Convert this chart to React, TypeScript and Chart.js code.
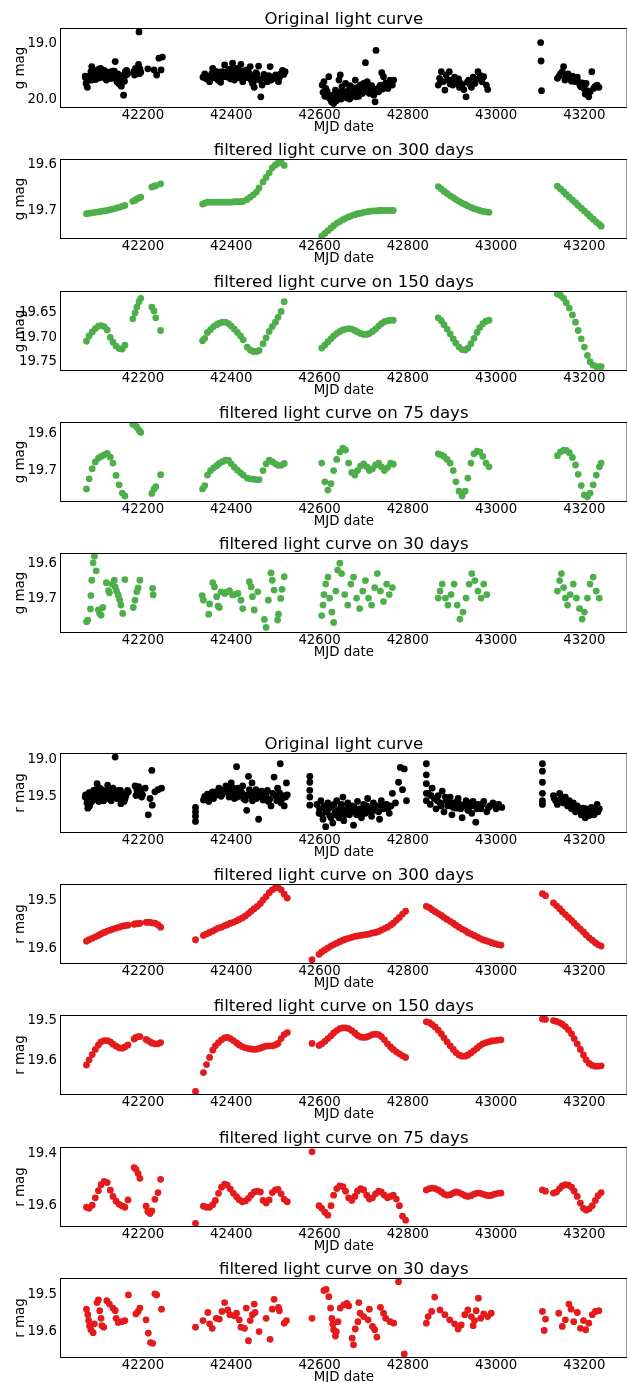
import { useEffect, useRef } from "react";
import { Chart, registerables } from "chart.js";

Chart.register(...registerables);

const FONT = "'DejaVu Sans', sans-serif";
const X_MIN = 42012;
const X_MAX = 43298;
const X_TICKS = [42200, 42400, 42600, 42800, 43000, 43200];

const BLACK = "#000000";
const GREEN = "#4daf4a";
const RED = "#e41a1c";

// ---------- g band: raw photometry ----------
const gRawDates = [
  42069, 42071, 42074, 42076, 42079, 42082, 42084, 42086, 42088, 42090, 42093, 42095, 42097, 42099, 42101,
  42104, 42106, 42108, 42110, 42112, 42115, 42117, 42119, 42121, 42124, 42127, 42129, 42132, 42137, 42135,
  42139, 42141, 42143, 42145, 42147, 42149, 42151, 42156, 42153, 42155, 42158, 42160, 42163, 42165,
  42179, 42181, 42183, 42185, 42188, 42190, 42191, 42193, 42195,
  42211, 42225, 42231, 42236, 42241, 42244,
  42070, 42078, 42083, 42092, 42096, 42103, 42107, 42113, 42118, 42123, 42126, 42131, 42134, 42142, 42148,
  42152, 42162, 42180, 42186, 42192,
  42336, 42340, 42344, 42351, 42354, 42358, 42362, 42366, 42370, 42373, 42376, 42380, 42382, 42385, 42389,
  42391, 42396, 42399, 42403, 42407, 42409, 42412, 42416, 42418, 42422, 42426, 42430, 42434, 42437, 42443,
  42445, 42448, 42452, 42456, 42459, 42462, 42467, 42470, 42472, 42477, 42482, 42488, 42490, 42495, 42501,
  42507, 42512, 42516, 42522, 42375, 42393, 42401, 42414, 42424, 42440, 42450,
  42342, 42348, 42356, 42360, 42364, 42368, 42371, 42378, 42383, 42387, 42392, 42395, 42398, 42402, 42405,
  42411, 42413, 42417, 42420, 42423, 42428, 42432, 42435, 42439, 42442, 42446, 42454, 42458, 42464, 42474,
  42480, 42485, 42493, 42498, 42504, 42510, 42519,
  42610, 42614, 42617, 42621, 42625, 42629, 42632, 42636, 42639, 42644, 42647, 42651, 42655, 42659, 42662,
  42666, 42669, 42673, 42677, 42681, 42684, 42687, 42692, 42695, 42700, 42704, 42708, 42711, 42715, 42718,
  42723, 42726, 42728, 42731, 42734, 42738, 42741, 42745, 42750, 42755, 42760, 42765, 42768,
  42606, 42619, 42627, 42634, 42642, 42649, 42657, 42664, 42671, 42679, 42689, 42697, 42706,
  42608, 42612, 42623, 42630, 42638, 42645, 42653, 42661, 42668, 42675, 42683, 42691, 42699, 42713, 42720,
  42736, 42743, 42752, 42758,
  42869, 42872, 42876, 42880, 42884, 42887, 42891, 42894, 42898, 42902, 42906, 42909, 42912, 42917, 42920,
  42923, 42927, 42932, 42938, 42941, 42944, 42948, 42952, 42955, 42959, 42962, 42968, 42972, 42978, 42981,
  42874, 42896, 42915, 42935, 42965,
  43101, 43102, 43103,
  43139, 43143, 43146, 43150, 43153, 43158, 43163, 43166, 43169, 43173, 43176, 43180, 43184, 43187, 43190,
  43195, 43199, 43202, 43206, 43210, 43213, 43217, 43221, 43224, 43229, 43233, 43156, 43171, 43192, 43204,
];
const gRawMag = [
  19.59, 19.72, 19.79, 19.63, 19.66, 19.51, 19.42, 19.57, 19.65, 19.49, 19.65, 19.60, 19.55, 19.47, 19.62,
  19.45, 19.53, 19.61, 19.56, 19.49, 19.51, 19.66, 19.54, 19.60, 19.57, 19.54, 19.63, 19.58, 19.33, 19.50,
  19.60, 19.69, 19.55, 19.72, 19.64, 19.75, 19.77, 19.93, 19.70, 19.62, 19.68, 19.51, 19.49, 19.55,
  19.51, 19.57, 19.45, 19.54, 19.48, 19.38, 18.80, 19.46, 19.52,
  19.46, 19.48, 19.57, 19.27, 19.48, 19.25,
  19.62, 19.60, 19.66, 19.55, 19.58, 19.57, 19.48, 19.60, 19.57, 19.52, 19.63, 19.50, 19.61, 19.58, 19.62,
  19.58, 19.57, 19.53, 19.50, 19.55,
  19.61, 19.55, 19.64, 19.69, 19.58, 19.45, 19.62, 19.57, 19.66, 19.52, 19.70, 19.51, 19.60, 19.39, 19.60,
  19.55, 19.48, 19.64, 19.36, 19.66, 19.53, 19.45, 19.62, 19.57, 19.38, 19.69, 19.55, 19.48, 19.60, 19.42,
  19.66, 19.72, 19.79, 19.53, 19.62, 19.41, 19.96, 19.75, 19.63, 19.60, 19.69, 19.42, 19.66, 19.61, 19.57,
  19.69, 19.55, 19.49, 19.51, 19.58, 19.61, 19.55, 19.59, 19.63, 19.57, 19.70,
  19.60, 19.62, 19.54, 19.59, 19.50, 19.61, 19.55, 19.57, 19.52, 19.55, 19.50, 19.58, 19.46, 19.56, 19.50,
  19.60, 19.52, 19.48, 19.55, 19.60, 19.50, 19.58, 19.62, 19.52, 19.56, 19.62, 19.60, 19.55, 19.66, 19.56,
  19.64, 19.58, 19.64, 19.60, 19.63, 19.60, 19.56,
  19.69, 19.81, 19.86, 19.60, 19.96, 20.02, 20.08, 19.84, 19.92, 19.66, 19.57, 19.78, 19.90, 19.72, 19.98,
  19.84, 19.76, 19.93, 19.80, 19.66, 19.88, 19.79, 19.75, 19.85, 19.72, 19.35, 19.69, 19.79, 19.84, 19.76,
  19.93, 20.05, 19.13, 19.82, 19.87, 19.75, 19.53, 19.60, 19.71, 19.81, 19.66, 19.75, 19.66,
  19.75, 19.92, 20.05, 19.98, 19.88, 20.00, 19.95, 19.90, 19.97, 19.92, 19.95, 19.90, 19.86,
  19.88, 19.95, 19.99, 19.93, 20.03, 19.95, 19.86, 19.92, 20.00, 19.88, 19.96, 19.86, 19.82, 19.90, 19.84,
  19.78, 19.82, 19.76, 19.74,
  19.75, 19.63, 19.51, 19.69, 19.84, 19.57, 19.66, 19.51, 19.66, 19.75, 19.61, 19.71, 19.69, 19.79, 19.72,
  19.75, 19.83, 19.96, 19.66, 19.74, 19.79, 19.61, 19.72, 19.65, 19.51, 19.63, 19.69, 19.60, 19.75, 19.83,
  19.70, 19.73, 19.64, 19.70, 19.58,
  18.99, 19.32, 19.85,
  19.63, 19.59, 19.55, 19.51, 19.42, 19.60, 19.55, 19.62, 19.65, 19.59, 19.64, 19.69, 19.61, 19.70, 19.75,
  19.71, 19.81, 19.91, 19.85, 19.96, 19.87, 19.51, 19.81, 19.78, 19.75, 19.79, 19.66, 19.68, 19.78, 19.72,
];

// ---------- g band: smoothed curves sampled on common epochs ----------
const gDates = [
  42072, 42078, 42085, 42092, 42099, 42105, 42112, 42119, 42126, 42132, 42139, 42146, 42153, 42159,
  42177, 42182, 42186, 42191, 42195, 42220, 42225, 42229, 42240,
  42335, 42340, 42346, 42353, 42360, 42367, 42373, 42380, 42387, 42394, 42400, 42407, 42414, 42421,
  42427, 42436, 42443, 42450, 42457, 42463, 42472, 42479, 42486, 42493, 42500, 42506, 42513, 42520,
  42605, 42612, 42619, 42626, 42632, 42639, 42646, 42653, 42659, 42666, 42673, 42680, 42686, 42693,
  42700, 42707, 42713, 42720, 42727, 42734, 42740, 42747, 42754, 42761, 42767,
  42869, 42876, 42882, 42889, 42896, 42903, 42909, 42916, 42923, 42930, 42936, 42943, 42950, 42957,
  42963, 42970, 42977, 42984,
  43139, 43146, 43153, 43159, 43166, 43173, 43180, 43186, 43193, 43200, 43207, 43213, 43220, 43227,
  43234, 43238,
];
const g300 = [
  19.706, 19.705, 19.704, 19.703, 19.702, 19.701, 19.700, 19.699, 19.697, 19.696, 19.694, 19.692, 19.690, 19.688,
  19.679, 19.677, 19.674, 19.672, 19.670, 19.648, 19.646, 19.645, 19.641,
  19.685, 19.683, 19.681, 19.681, 19.681, 19.681, 19.681, 19.681, 19.681, 19.681, 19.681, 19.680, 19.680, 19.680,
  19.679, 19.675, 19.670, 19.665, 19.659, 19.650, 19.637, 19.627, 19.617, 19.606, 19.600, 19.596, 19.595, 19.601,
  19.755, 19.749, 19.743, 19.737, 19.732, 19.727, 19.723, 19.719, 19.716, 19.713, 19.710, 19.708, 19.706, 19.705,
  19.703, 19.702, 19.701, 19.700, 19.700, 19.699, 19.699, 19.699, 19.699, 19.699, 19.699,
  19.647, 19.652, 19.657, 19.662, 19.667, 19.671, 19.675, 19.679, 19.683, 19.686, 19.689, 19.692, 19.695, 19.697,
  19.699, 19.701, 19.702, 19.703,
  19.646, 19.652, 19.658, 19.664, 19.670, 19.676, 19.682, 19.688, 19.694, 19.700, 19.706, 19.712, 19.718, 19.724,
  19.729, 19.733,
];
const g150 = [
  19.708, 19.697, 19.689, 19.682, 19.677, 19.676, 19.678, 19.685, 19.700, 19.710, 19.718, 19.723, 19.724, 19.716,
  19.662, 19.650, 19.638, 19.627, 19.620, 19.638, 19.646, 19.660, 19.686,
  19.707, 19.702, 19.690, 19.684, 19.678, 19.674, 19.671, 19.669, 19.669, 19.672, 19.677, 19.683, 19.690, 19.697,
  19.705, 19.720, 19.726, 19.729, 19.729, 19.727, 19.713, 19.701, 19.688, 19.678, 19.669, 19.659, 19.647, 19.627,
  19.722, 19.716, 19.709, 19.703, 19.697, 19.692, 19.688, 19.685, 19.683, 19.682, 19.683, 19.686, 19.689, 19.692,
  19.694, 19.694, 19.692, 19.688, 19.683, 19.677, 19.672, 19.668, 19.666, 19.665, 19.665,
  19.660, 19.666, 19.674, 19.683, 19.693, 19.703, 19.712, 19.720, 19.725, 19.726, 19.722, 19.713, 19.702, 19.690,
  19.680, 19.672, 19.667, 19.665,
  19.611, 19.614, 19.620, 19.629, 19.640, 19.654, 19.669, 19.686, 19.703, 19.720, 19.737, 19.750, 19.757, 19.760,
  19.760, 19.760,
];
const g75 = [
  19.749, 19.722, 19.695, 19.677, 19.667, 19.662, 19.658, 19.654, 19.664, 19.680, 19.713, 19.738, 19.760, 19.768,
  19.576, 19.578, 19.584, 19.592, 19.598, 19.761, 19.749, 19.743, 19.711,
  19.749, 19.740, 19.712, 19.700, 19.693, 19.687, 19.681, 19.676, 19.672, 19.673, 19.682, 19.691, 19.699, 19.706,
  19.712, 19.720, 19.722, 19.723, 19.724, 19.724, 19.700, 19.682, 19.672, 19.676, 19.682, 19.686, 19.686, 19.681,
  19.680, 19.730, 19.752, 19.735, 19.700, 19.670, 19.650, 19.640, 19.645, 19.680, 19.705, 19.712, 19.700, 19.688,
  19.682, 19.690, 19.700, 19.695, 19.685, 19.680, 19.690, 19.700, 19.692, 19.680, 19.683,
  19.655, 19.658, 19.662, 19.670, 19.680, 19.700, 19.730, 19.755, 19.768, 19.755, 19.720, 19.680, 19.655, 19.648,
  19.650, 19.662, 19.680, 19.690,
  19.660, 19.650, 19.645, 19.646, 19.652, 19.665, 19.685, 19.710, 19.740, 19.765, 19.770, 19.760, 19.738, 19.712,
  19.690, 19.680,
];

// ---------- g band: 30-day filter ----------
const g30Dates = [
  42072, 42075, 42081, 42082, 42084, 42087, 42090, 42094, 42099, 42102, 42105, 42109, 42117, 42122, 42124,
  42130, 42135, 42137, 42140, 42144, 42147, 42150, 42154, 42159, 42178, 42182, 42186, 42189, 42193, 42222, 42223,
  42334, 42337, 42349, 42351, 42358, 42362, 42367, 42370, 42373, 42377, 42385, 42389, 42396, 42403, 42407,
  42415, 42422, 42426, 42441, 42445, 42448, 42452, 42460, 42475, 42479, 42484, 42490, 42493, 42497, 42505,
  42507, 42512, 42515, 42520,
  42605, 42608, 42610, 42614, 42619, 42623, 42628, 42632, 42637, 42641, 42646, 42650, 42657, 42664, 42671,
  42677, 42684, 42691, 42698, 42704, 42711, 42718, 42725, 42731, 42738, 42745, 42752, 42758, 42765,
  42869, 42873, 42878, 42885, 42891, 42898, 42905, 42912, 42918, 42925, 42932, 42939, 42945, 42952, 42959,
  42966, 42972, 42979,
  43139, 43144, 43148, 43153, 43157, 43162, 43168, 43175, 43182, 43189, 43195, 43200, 43207, 43213, 43220,
  43227, 43234,
];
const g30 = [
  19.768, 19.763, 19.731, 19.693, 19.649, 19.599, 19.580, 19.622, 19.734, 19.744, 19.749, 19.727, 19.656, 19.679, 19.685,
  19.660, 19.649, 19.668, 19.680, 19.692, 19.705, 19.720, 19.744, 19.647, 19.727, 19.706, 19.682, 19.671, 19.649, 19.672, 19.691,
  19.693, 19.706, 19.746, 19.717, 19.656, 19.668, 19.696, 19.723, 19.727, 19.682, 19.687, 19.683, 19.679, 19.691, 19.690,
  19.687, 19.706, 19.730, 19.653, 19.668, 19.696, 19.734, 19.682, 19.761, 19.784, 19.706, 19.628, 19.649, 19.677, 19.763,
  19.746, 19.701, 19.675, 19.639,
  19.750, 19.720, 19.690, 19.660, 19.640, 19.700, 19.740, 19.770, 19.680, 19.620, 19.600, 19.630, 19.690, 19.720, 19.660,
  19.640, 19.700, 19.730, 19.680, 19.650, 19.700, 19.720, 19.670, 19.630, 19.680, 19.710, 19.660, 19.690, 19.670,
  19.700, 19.680, 19.660, 19.700, 19.720, 19.690, 19.660, 19.720, 19.760, 19.740, 19.700, 19.660, 19.630, 19.650, 19.680,
  19.700, 19.660, 19.690,
  19.680, 19.650, 19.630, 19.670, 19.700, 19.720, 19.690, 19.660, 19.700, 19.730, 19.760, 19.740, 19.700, 19.660, 19.640,
  19.680, 19.700,
];

// ---------- r band: raw photometry ----------
const rRawDates = [
  42069, 42073, 42075, 42077, 42079, 42082, 42084, 42087, 42090, 42093, 42096, 42097, 42099, 42102, 42105,
  42108, 42111, 42113, 42117, 42120, 42122, 42126, 42129, 42132, 42135, 42137, 42141, 42144, 42147, 42150,
  42152, 42154, 42157, 42159, 42163, 42167, 42182, 42184, 42187, 42190, 42193, 42197, 42199, 42205, 42212,
  42216, 42220, 42221, 42227, 42234, 42242,
  42070, 42074, 42078, 42081, 42085, 42088, 42091, 42094, 42098, 42100, 42103, 42106, 42109, 42114, 42116,
  42119, 42123, 42125, 42128, 42131, 42134, 42139, 42143, 42146, 42149, 42155, 42161, 42165, 42186, 42191, 42195,
  42319, 42319, 42319, 42319, 42337, 42343, 42349, 42355, 42360, 42366, 42372, 42377, 42382, 42388, 42394,
  42400, 42403, 42407, 42412, 42416, 42422, 42426, 42432, 42435, 42439, 42443, 42447, 42452, 42456, 42462,
  42467, 42472, 42479, 42484, 42490, 42497, 42501, 42505, 42511, 42515, 42520, 42525, 42527,
  42346, 42369, 42385, 42397, 42409, 42419, 42429, 42450, 42459,
  42340, 42352, 42358, 42363, 42375, 42380, 42390, 42395, 42401, 42405, 42411, 42414, 42420, 42424, 42428,
  42437, 42441, 42445, 42448, 42454, 42457, 42464, 42469, 42475, 42482, 42487, 42494, 42503, 42509, 42513,
  42518, 42523,
  42578, 42578, 42578, 42578, 42578,
  42594, 42599, 42603, 42608, 42612, 42614, 42619, 42623, 42628, 42630, 42635, 42639, 42644, 42648, 42653,
  42655, 42659, 42664, 42668, 42673, 42677, 42682, 42686, 42691, 42695, 42700, 42704, 42709, 42713, 42718,
  42722, 42727, 42731, 42736, 42740, 42745, 42752, 42758, 42765, 42772, 42779, 42783, 42788, 42792, 42797,
  42600, 42606, 42610, 42617, 42621, 42626, 42633, 42637, 42641, 42646, 42650, 42657, 42662, 42666, 42671,
  42679, 42684, 42693, 42702, 42707, 42716, 42725, 42734, 42743, 42755, 42762,
  42842, 42842, 42842, 42842, 42842,
  42846, 42851, 42855, 42860, 42864, 42869, 42873, 42878, 42882, 42887, 42891, 42896, 42900, 42905, 42909,
  42914, 42918, 42923, 42927, 42932, 42936, 42941, 42945, 42950, 42954, 42959, 42966, 42972, 42979, 42986,
  42993, 43000, 43006, 43013,
  42853, 42867, 42876, 42885, 42894, 42903, 42912, 42920, 42930, 42939, 42948, 42957, 42969, 42983, 42996,
  43105, 43105, 43105, 43105, 43105, 43105,
  43130, 43135, 43139, 43144, 43148, 43153, 43157, 43162, 43166, 43171, 43175, 43180, 43184, 43189, 43193,
  43198, 43202, 43207, 43211, 43216, 43220, 43225, 43229, 43234,
  43132, 43141, 43151, 43160, 43169, 43178, 43187, 43196, 43205, 43214, 43222, 43231,
];
const rRawMag = [
  19.50, 19.58, 19.65, 19.55, 19.62, 19.48, 19.56, 19.50, 19.45, 19.40, 19.32, 19.46, 19.52, 19.38, 19.43,
  19.50, 19.55, 19.44, 19.41, 19.34, 19.52, 19.47, 19.42, 19.38, 19.50, 18.96, 19.52, 19.41, 19.48, 19.59,
  19.54, 19.47, 19.56, 19.53, 19.45, 19.43, 19.35, 19.48, 19.44, 19.36, 19.40, 19.50, 19.47, 19.38, 19.74,
  19.52, 19.14, 19.61, 19.43, 19.40, 19.38,
  19.47, 19.52, 19.44, 19.58, 19.47, 19.41, 19.53, 19.49, 19.44, 19.56, 19.47, 19.40, 19.46, 19.52, 19.47,
  19.45, 19.40, 19.49, 19.55, 19.46, 19.43, 19.47, 19.50, 19.44, 19.41, 19.50, 19.49, 19.41, 19.40, 19.45, 19.42,
  19.64, 19.70, 19.76, 19.83, 19.54, 19.50, 19.56, 19.45, 19.52, 19.43, 19.38, 19.49, 19.41, 19.35, 19.45,
  19.31, 19.41, 19.52, 19.09, 19.38, 19.47, 19.35, 19.54, 19.68, 19.22, 19.43, 19.31, 19.50, 19.40, 19.80,
  19.45, 19.54, 19.46, 19.56, 19.62, 19.23, 19.49, 19.38, 19.05, 19.52, 19.62, 19.31, 19.47,
  19.46, 19.47, 19.40, 19.36, 19.44, 19.42, 19.48, 19.45, 19.50,
  19.49, 19.50, 19.43, 19.47, 19.43, 19.46, 19.41, 19.50, 19.45, 19.38, 19.46, 19.50, 19.40, 19.44, 19.52,
  19.47, 19.40, 19.49, 19.55, 19.44, 19.52, 19.48, 19.42, 19.50, 19.41, 19.53, 19.45, 19.55, 19.44, 19.58,
  19.48, 19.50,
  19.22, 19.30, 19.41, 19.50, 19.61,
  19.60, 19.72, 19.55, 19.80, 19.66, 19.90, 19.58, 19.75, 19.62, 19.85, 19.70, 19.55, 19.78, 19.64, 19.50,
  19.82, 19.68, 19.58, 19.74, 19.62, 19.88, 19.70, 19.56, 19.66, 19.78, 19.60, 19.72, 19.52, 19.65, 19.76,
  19.58, 19.68, 19.62, 19.80, 19.55, 19.66, 19.60, 19.72, 19.45, 19.58, 19.30, 19.10, 19.40, 19.12, 19.55,
  19.66, 19.74, 19.62, 19.70, 19.65, 19.78, 19.60, 19.74, 19.68, 19.72, 19.60, 19.74, 19.66, 19.62, 19.70,
  19.64, 19.74, 19.70, 19.66, 19.62, 19.70, 19.62, 19.70, 19.62, 19.66, 19.62,
  19.05, 19.20, 19.32, 19.45, 19.55,
  19.45, 19.60, 19.38, 19.52, 19.66, 19.48, 19.58, 19.42, 19.70, 19.55, 19.62, 19.50, 19.74, 19.58, 19.65,
  19.52, 19.60, 19.78, 19.62, 19.55, 19.68, 19.58, 19.72, 19.62, 19.84, 19.60, 19.66, 19.56, 19.70, 19.62,
  19.58, 19.66, 19.60, 19.64,
  19.48, 19.55, 19.62, 19.50, 19.58, 19.64, 19.56, 19.66, 19.60, 19.64, 19.56, 19.66, 19.60, 19.64, 19.60,
  19.05, 19.15, 19.30, 19.45, 19.55, 19.60,
  19.48, 19.55, 19.60, 19.45, 19.52, 19.58, 19.50, 19.62, 19.55, 19.66, 19.58, 19.70, 19.62, 19.68, 19.74,
  19.65, 19.78, 19.70, 19.75, 19.64, 19.72, 19.68, 19.60, 19.66,
  19.52, 19.55, 19.50, 19.56, 19.60, 19.62, 19.65, 19.70, 19.66, 19.68, 19.74, 19.70,
];

// ---------- r band: smoothed curves sampled on common epochs ----------
const rDates = [
  42072, 42078, 42085, 42092, 42099, 42105, 42112, 42119, 42126, 42132, 42139, 42146, 42153, 42159, 42166,
  42180, 42184, 42189, 42193, 42207, 42211, 42216, 42220, 42227, 42234, 42240,
  42319, 42337, 42344, 42351, 42358, 42364, 42371, 42378, 42385, 42391, 42398, 42405, 42412, 42418, 42425,
  42432, 42439, 42445, 42452, 42459, 42466, 42472, 42479, 42486, 42493, 42500, 42506, 42513, 42520, 42527,
  42583, 42599, 42605, 42612, 42619, 42626, 42632, 42639, 42646, 42653, 42659, 42666, 42673, 42680, 42686,
  42693, 42700, 42707, 42713, 42720, 42727, 42734, 42740, 42747, 42754, 42761, 42767, 42774, 42781, 42788, 42795,
  42842, 42849, 42855, 42862, 42869, 42876, 42882, 42889, 42896, 42903, 42909, 42916, 42923, 42930, 42936,
  42943, 42950, 42957, 42963, 42970, 42977, 42984, 42990, 42997, 43004, 43011,
  43105, 43112, 43130, 43137, 43144, 43150, 43157, 43164, 43171, 43177, 43184, 43191, 43198, 43204, 43211,
  43218, 43225, 43231, 43238,
];
const r300 = [
  19.584, 19.581, 19.578, 19.575, 19.572, 19.569, 19.566, 19.563, 19.561, 19.559, 19.557, 19.555, 19.553, 19.552, 19.551,
  19.549, 19.548, 19.548, 19.547, 19.545, 19.545, 19.545, 19.546, 19.547, 19.550, 19.555,
  19.581, 19.572, 19.569, 19.566, 19.563, 19.560, 19.557, 19.555, 19.552, 19.550, 19.547, 19.545, 19.542, 19.539, 19.536,
  19.532, 19.527, 19.522, 19.517, 19.512, 19.506, 19.499, 19.492, 19.484, 19.478, 19.474, 19.473, 19.478, 19.487, 19.495,
  19.622, 19.611, 19.606, 19.602, 19.598, 19.594, 19.591, 19.588, 19.585, 19.582, 19.580, 19.578, 19.576, 19.574, 19.573,
  19.572, 19.571, 19.570, 19.569, 19.567, 19.566, 19.564, 19.561, 19.558, 19.555, 19.551, 19.547, 19.541, 19.535, 19.528, 19.522,
  19.512, 19.515, 19.519, 19.523, 19.527, 19.531, 19.535, 19.539, 19.543, 19.547, 19.551, 19.555, 19.559, 19.562, 19.566,
  19.569, 19.572, 19.575, 19.578, 19.581, 19.583, 19.585, 19.587, 19.589, 19.591, 19.592,
  19.486, 19.490, 19.505, 19.511, 19.517, 19.523, 19.529, 19.535, 19.541, 19.547, 19.553, 19.559, 19.565, 19.571, 19.577,
  19.582, 19.587, 19.591, 19.594,
];
const r150 = [
  19.611, 19.598, 19.585, 19.572, 19.561, 19.553, 19.550, 19.550, 19.553, 19.559, 19.564, 19.568, 19.569, 19.566, 19.561,
  19.546, 19.542, 19.540, 19.540, 19.547, 19.550, 19.553, 19.556, 19.558, 19.558, 19.555,
  19.677, 19.630, 19.610, 19.592, 19.574, 19.563, 19.555, 19.548, 19.543, 19.542, 19.545, 19.550, 19.556, 19.561, 19.565,
  19.568, 19.570, 19.571, 19.572, 19.571, 19.569, 19.566, 19.564, 19.563, 19.563, 19.561, 19.557, 19.545, 19.535, 19.530,
  19.557, 19.562, 19.558, 19.552, 19.545, 19.538, 19.531, 19.525, 19.520, 19.518, 19.518, 19.520, 19.525, 19.531, 19.537,
  19.541, 19.542, 19.541, 19.538, 19.535, 19.534, 19.535, 19.540, 19.548, 19.558, 19.566, 19.572, 19.578, 19.583, 19.588, 19.592,
  19.503, 19.505, 19.510, 19.516, 19.524, 19.533, 19.543, 19.553, 19.563, 19.572, 19.580, 19.586, 19.589, 19.589, 19.586,
  19.581, 19.575, 19.569, 19.563, 19.558, 19.555, 19.553, 19.551, 19.550, 19.549, 19.548,
  19.496, 19.497, 19.500, 19.502, 19.505, 19.509, 19.515, 19.523, 19.533, 19.545, 19.558, 19.572, 19.586, 19.598, 19.607,
  19.612, 19.614, 19.614, 19.613,
];
const r75 = [
  19.606, 19.610, 19.598, 19.570, 19.543, 19.520, 19.508, 19.512, 19.541, 19.565, 19.583, 19.595, 19.601, 19.606, 19.578,
  19.455, 19.462, 19.478, 19.496, 19.602, 19.622, 19.630, 19.620, 19.576, 19.550, 19.500,
  19.667, 19.602, 19.606, 19.606, 19.596, 19.580, 19.553, 19.530, 19.518, 19.522, 19.537, 19.553, 19.566, 19.577, 19.585,
  19.582, 19.572, 19.560, 19.548, 19.545, 19.548, 19.580, 19.590, 19.578, 19.550, 19.540, 19.538, 19.555, 19.576, 19.585,
  19.395, 19.600, 19.610, 19.625, 19.636, 19.600, 19.560, 19.535, 19.525, 19.528, 19.545, 19.570, 19.580, 19.565, 19.545,
  19.535, 19.540, 19.560, 19.575, 19.570, 19.555, 19.545, 19.548, 19.560, 19.570, 19.565, 19.560, 19.575, 19.600, 19.640, 19.655,
  19.540, 19.535, 19.533, 19.535, 19.540, 19.548, 19.556, 19.560, 19.558, 19.552, 19.548, 19.550, 19.556, 19.562, 19.565,
  19.562, 19.556, 19.552, 19.552, 19.556, 19.560, 19.562, 19.560, 19.556, 19.553, 19.552,
  19.540, 19.545, 19.552, 19.548, 19.535, 19.525, 19.520, 19.522, 19.530, 19.545, 19.565, 19.590, 19.610, 19.617, 19.612,
  19.600, 19.580, 19.562, 19.550,
];

// ---------- r band: 30-day filter ----------
const r30Dates = [
  42072, 42075, 42077, 42079, 42082, 42087, 42090, 42096, 42099, 42102, 42105, 42107, 42111, 42118, 42124,
  42132, 42137, 42139, 42144, 42152, 42159, 42167, 42184, 42189, 42193, 42207, 42212, 42217, 42222, 42227,
  42231, 42242,
  42319, 42336, 42347, 42351, 42357, 42366, 42373, 42379, 42385, 42392, 42397, 42407, 42412, 42418, 42422,
  42430, 42434, 42439, 42443, 42448, 42452, 42454, 42463, 42479, 42488, 42493, 42497, 42507, 42509, 42520, 42525,
  42583, 42610, 42615, 42621, 42625, 42628, 42630, 42632, 42636, 42638, 42642, 42647, 42655, 42662, 42666,
  42674, 42677, 42681, 42687, 42689, 42692, 42700, 42710, 42713, 42720, 42725, 42730, 42738, 42745, 42750,
  42760, 42768, 42779, 42792,
  42842, 42846, 42854, 42861, 42873, 42884, 42895, 42906, 42914, 42921, 42929, 42936, 42944, 42948, 42951,
  42955, 42960, 42965, 42972, 42981, 42989,
  43105, 43109, 43112, 43142, 43150, 43157, 43165, 43170, 43176, 43184, 43191, 43198, 43203, 43210, 43218,
  43225, 43233,
];
const r30 = [
  19.539, 19.554, 19.570, 19.584, 19.595, 19.603, 19.579, 19.521, 19.514, 19.543, 19.564, 19.584, 19.588, 19.516, 19.525,
  19.536, 19.543, 19.564, 19.575, 19.573, 19.570, 19.500, 19.552, 19.545, 19.536, 19.568, 19.604, 19.630, 19.632, 19.497,
  19.500, 19.539,
  19.588, 19.570, 19.548, 19.579, 19.591, 19.564, 19.566, 19.545, 19.521, 19.541, 19.554, 19.557, 19.550, 19.568, 19.588,
  19.591, 19.536, 19.625, 19.570, 19.554, 19.525, 19.548, 19.600, 19.564, 19.621, 19.539, 19.512, 19.534, 19.543, 19.577, 19.570,
  19.564, 19.488, 19.485, 19.505, 19.536, 19.564, 19.580, 19.595, 19.612, 19.600, 19.573, 19.536, 19.527, 19.523, 19.530,
  19.618, 19.636, 19.593, 19.573, 19.521, 19.550, 19.559, 19.568, 19.539, 19.586, 19.595, 19.615, 19.534, 19.550, 19.564,
  19.573, 19.577, 19.464, 19.661,
  19.577, 19.559, 19.545, 19.506, 19.541, 19.554, 19.568, 19.579, 19.593, 19.582, 19.554, 19.541, 19.559, 19.584, 19.570,
  19.543, 19.509, 19.564, 19.552, 19.559, 19.550,
  19.545, 19.597, 19.566, 19.550, 19.586, 19.568, 19.525, 19.539, 19.573, 19.548, 19.591, 19.570, 19.595, 19.577, 19.554,
  19.545, 19.543,
];

interface PanelSpec {
  title: string;
  yLabel: string;
  dates: number[];
  mags: number[];
  color: string;
  yMin: number;
  yMax: number;
  yTicks: string[];
  plotTop: number;
}

const PANELS: PanelSpec[] = [
  { title: "Original light curve", yLabel: "g mag", dates: gRawDates, mags: gRawMag, color: BLACK, yMin: 18.73, yMax: 20.16, yTicks: ["19.0", "20.0"], plotTop: 28 },
  { title: "filtered light curve on 300 days", yLabel: "g mag", dates: gDates, mags: g300, color: GREEN, yMin: 19.587, yMax: 19.761, yTicks: ["19.6", "19.7"], plotTop: 159 },
  { title: "filtered light curve on 150 days", yLabel: "g mag", dates: gDates, mags: g150, color: GREEN, yMin: 19.605, yMax: 19.769, yTicks: ["19.65", "19.70", "19.75"], plotTop: 291 },
  { title: "filtered light curve on 75 days", yLabel: "g mag", dates: gDates, mags: g75, color: GREEN, yMin: 19.57, yMax: 19.784, yTicks: ["19.6", "19.7"], plotTop: 422 },
  { title: "filtered light curve on 30 days", yLabel: "g mag", dates: g30Dates, mags: g30, color: GREEN, yMin: 19.571, yMax: 19.8, yTicks: ["19.6", "19.7"], plotTop: 553 },
  { title: "Original light curve", yLabel: "r mag", dates: rRawDates, mags: rRawMag, color: BLACK, yMin: 18.905, yMax: 19.986, yTicks: ["19.0", "19.5"], plotTop: 753 },
  { title: "filtered light curve on 300 days", yLabel: "r mag", dates: rDates, mags: r300, color: RED, yMin: 19.466, yMax: 19.631, yTicks: ["19.5", "19.6"], plotTop: 884 },
  { title: "filtered light curve on 150 days", yLabel: "r mag", dates: rDates, mags: r150, color: RED, yMin: 19.486, yMax: 19.686, yTicks: ["19.5", "19.6"], plotTop: 1015 },
  { title: "filtered light curve on 75 days", yLabel: "r mag", dates: rDates, mags: r75, color: RED, yMin: 19.377, yMax: 19.681, yTicks: ["19.4", "19.6"], plotTop: 1147 },
  { title: "filtered light curve on 30 days", yLabel: "r mag", dates: r30Dates, mags: r30, color: RED, yMin: 19.454, yMax: 19.672, yTicks: ["19.5", "19.6"], plotTop: 1278 },
];

const PLOT_LEFT = 60;
const PLOT_H = 80;
const TITLE_H = 20;
const XAXIS_H = 28;
const CANVAS_W = 631;
const CANVAS_H = TITLE_H + PLOT_H + XAXIS_H;

// Axes frame drawn on top of the markers
const framePlugin = {
  id: "axesFrame",
  afterDatasetsDraw(chart: any) {
    const { ctx, chartArea } = chart;
    const { left, top, right, bottom } = chartArea;
    ctx.save();
    ctx.strokeStyle = "#000";
    ctx.lineWidth = 1;
    ctx.strokeRect(left + 0.5, top + 0.5, right - left - 1, bottom - top - 1);
    ctx.restore();
  },
};

function Panel({ spec }: { spec: PanelSpec }) {
  const ref = useRef<HTMLCanvasElement>(null);

  useEffect(() => {
    const canvas = ref.current;
    if (!canvas) return;
    const points = spec.dates.map((d, i) => ({ x: d, y: spec.mags[i] }));
    const tickFont = { family: FONT, size: 13.3, lineHeight: 1 };
    const labelFont = { family: FONT, size: 13.4, lineHeight: 1 };

    const chart = new Chart(canvas, {
      type: "scatter",
      data: {
        datasets: [
          {
            data: points,
            backgroundColor: spec.color,
            borderWidth: 0,
            pointRadius: 3.4,
            pointHoverRadius: 3.4,
            clip: 0,
          },
        ],
      },
      options: {
        animation: false,
        responsive: false,
        maintainAspectRatio: false,
        events: [],
        layout: { padding: 0 },
        plugins: {
          legend: { display: false },
          tooltip: { enabled: false },
          title: {
            display: true,
            text: spec.title,
            fullSize: false,
            color: "#000",
            font: { family: FONT, size: 16.6, lineHeight: 1, weight: "normal" },
            padding: { top: 3.4, bottom: 0 },
          },
        },
        scales: {
          x: {
            type: "linear",
            min: X_MIN,
            max: X_MAX,
            grid: { display: false, drawTicks: false },
            border: { display: false },
            afterBuildTicks: (scale: any) => {
              scale.ticks = X_TICKS.map((v) => ({ value: v }));
            },
            afterFit: (scale: any) => {
              scale.height = XAXIS_H;
            },
            ticks: {
              color: "#000",
              font: tickFont,
              padding: 1,
              maxRotation: 0,
              autoSkip: false,
              callback: (v: any) => String(v),
            },
            title: {
              display: true,
              text: "MJD date",
              color: "#000",
              font: labelFont,
              padding: { top: 0, bottom: 1.5 },
            },
          },
          y: {
            type: "linear",
            reverse: true,
            min: spec.yMin,
            max: spec.yMax,
            grid: { display: false, drawTicks: false },
            border: { display: false },
            afterBuildTicks: (scale: any) => {
              scale.ticks = spec.yTicks.map((t) => ({ value: parseFloat(t) }));
            },
            afterFit: (scale: any) => {
              scale.width = PLOT_LEFT;
            },
            ticks: {
              color: "#000",
              font: tickFont,
              padding: 3,
              autoSkip: false,
              callback: (v: any) =>
                spec.yTicks.find((t) => Math.abs(parseFloat(t) - Number(v)) < 1e-9) ?? "",
            },
            title: {
              display: true,
              text: spec.yLabel,
              color: "#000",
              font: labelFont,
              padding: { top: 14, bottom: 0 },
            },
          },
        },
      } as any,
      plugins: [framePlugin],
    });

    return () => chart.destroy();
  }, [spec]);

  return (
    <canvas
      ref={ref}
      width={CANVAS_W}
      height={CANVAS_H}
      style={{
        position: "absolute",
        left: 0,
        top: spec.plotTop - TITLE_H,
        width: CANVAS_W,
        height: CANVAS_H,
      }}
    />
  );
}

export default function App() {
  return (
    <div
      style={{
        position: "fixed",
        left: 0,
        top: 0,
        width: 627,
        height: 1382,
        overflow: "hidden",
        background: "#fff",
      }}
    >
      {PANELS.map((p, i) => (
        <Panel key={i} spec={p} />
      ))}
    </div>
  );
}
